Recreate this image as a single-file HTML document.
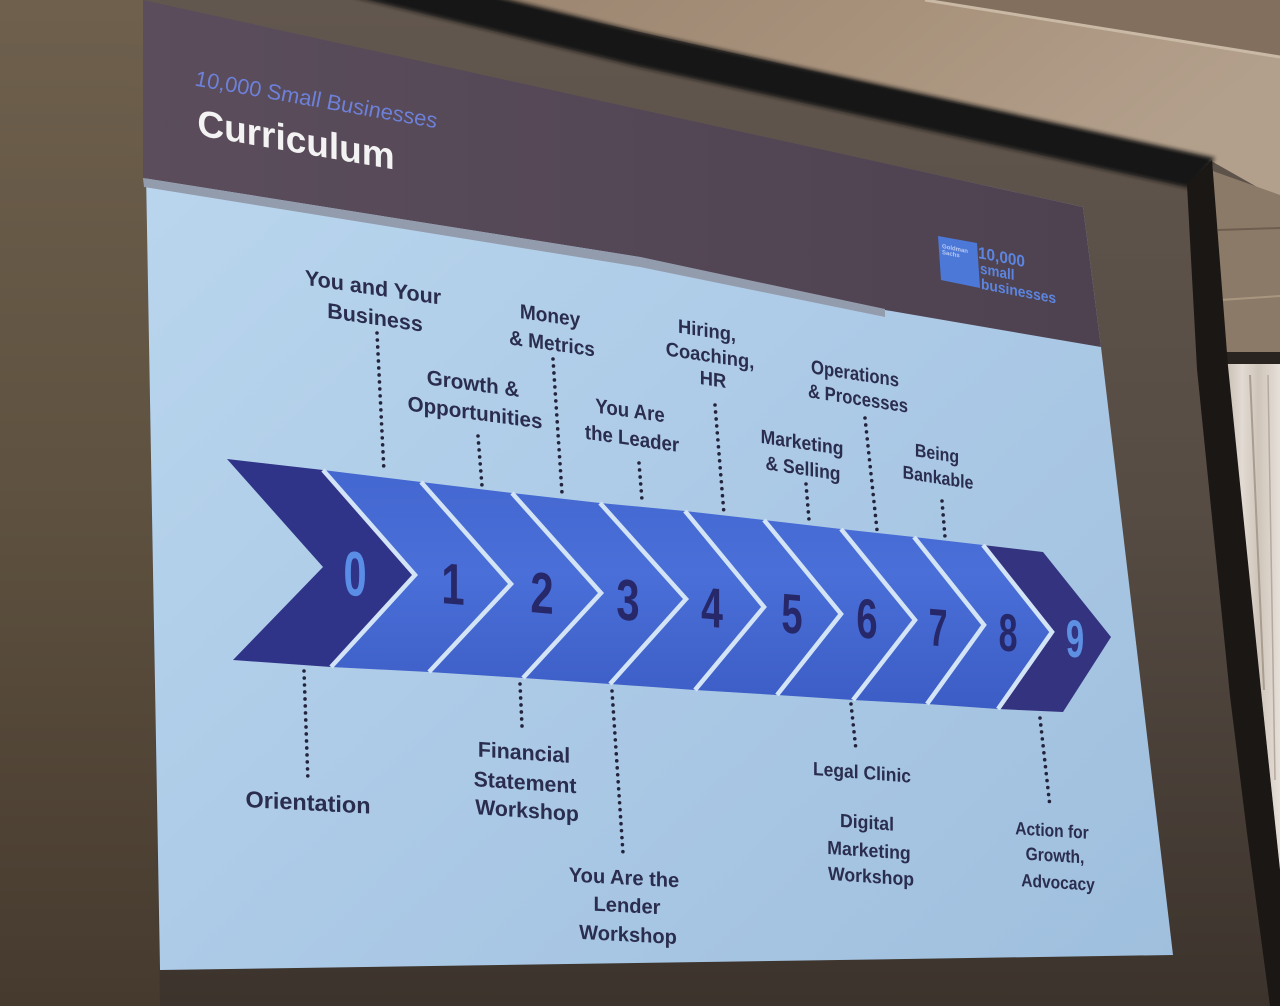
<!DOCTYPE html>
<html>
<head>
<meta charset="utf-8">
<style>
html,body{margin:0;padding:0;background:#4a4038;}
svg{display:block;}
text{font-family:"Liberation Sans",Arial,sans-serif;}
</style>
</head>
<body>
<svg width="1280" height="1006" viewBox="0 0 1280 1006" xmlns="http://www.w3.org/2000/svg">
<defs>
<linearGradient id="scr" x1="0" y1="0" x2="0" y2="1">
<stop offset="0" stop-color="#62574e"/>
<stop offset="0.5" stop-color="#564c44"/>
<stop offset="1" stop-color="#3c332c"/>
</linearGradient>
<linearGradient id="wall" x1="0" y1="0" x2="0" y2="1">
<stop offset="0" stop-color="#6e604d"/>
<stop offset="0.5" stop-color="#5e513f"/>
<stop offset="1" stop-color="#463a2f"/>
</linearGradient>
<linearGradient id="ceil" x1="0" y1="0" x2="1" y2="0.3">
<stop offset="0" stop-color="#9c8671"/>
<stop offset="0.5" stop-color="#a8927c"/>
<stop offset="1" stop-color="#b3a08c"/>
</linearGradient>
<linearGradient id="slide" x1="0" y1="0" x2="1" y2="1">
<stop offset="0" stop-color="#bcd8ef"/>
<stop offset="0.5" stop-color="#adcbe7"/>
<stop offset="1" stop-color="#9fbfde"/>
</linearGradient>
<linearGradient id="hdr" x1="0" y1="0" x2="1" y2="0">
<stop offset="0" stop-color="#5b4d5b"/>
<stop offset="1" stop-color="#4e4250"/>
</linearGradient>
<linearGradient id="chev" gradientUnits="userSpaceOnUse" x1="0" y1="460" x2="0" y2="712">
<stop offset="0" stop-color="#4366cf"/>
<stop offset="0.45" stop-color="#4a6fd8"/>
<stop offset="1" stop-color="#3b5cc4"/>
</linearGradient>
<linearGradient id="curt" x1="0" y1="0" x2="1" y2="0">
<stop offset="0" stop-color="#c9bfb4"/>
<stop offset="0.3" stop-color="#e2dbd3"/>
<stop offset="0.6" stop-color="#cfc5ba"/>
<stop offset="1" stop-color="#e6e0d9"/>
</linearGradient>
<filter id="soft" x="-5%" y="-5%" width="110%" height="110%"><feGaussianBlur stdDeviation="2"/></filter>
</defs>

<rect x="0" y="0" width="1280" height="1006" fill="url(#scr)"/>
<polygon points="0,0 143,0 160,1006 0,1006" fill="url(#wall)"/>
<polygon points="495,0 1280,0 1280,200 1213,162 640,32" fill="url(#ceil)"/>
<polygon points="925,0 1280,0 1280,57" fill="#826f5e"/>
<line x1="925" y1="0" x2="1280" y2="57" stroke="#c9b9a5" stroke-width="3"/>
<polygon points="1210,170 1280,195 1280,362 1224,362" fill="#8c7a68"/>
<line x1="1218" y1="230" x2="1280" y2="228" stroke="#6e5e50" stroke-width="2"/>
<line x1="1220" y1="300" x2="1280" y2="296" stroke="#a8967f" stroke-width="2"/>
<polygon points="1226,364 1280,364 1280,872 1262,702" fill="url(#curt)"/>
<line x1="1250" y1="375" x2="1264" y2="690" stroke="#a99d90" stroke-width="2"/>
<line x1="1268" y1="375" x2="1275" y2="780" stroke="#b5aa9e" stroke-width="1.5"/>
<rect x="1222" y="352" width="58" height="12" fill="#2a2420"/>
<g filter="url(#soft)">
<polygon points="351,-4 495,-4 640,32 1215,158 1190,188 640,67" fill="#181412"/>
</g>
<polygon points="1187,185 1212,160 1228,366 1262,700 1280,870 1280,1006 1270,1006 1247,833 1230,696 1197,369" fill="#1b1714"/>

<polygon points="143,1 1083,207 1101,347 1173,955 160,970" fill="url(#slide)"/>
<polygon points="143,0 1083,207 1101,347 885,310 640,257 143,178" fill="url(#hdr)"/>
<polygon points="143,178 640,257 885,309 885,317 640,267 144,187" fill="#939cad"/>

<text transform="translate(316 99) skewY(10) scale(0.98 1)" y="7.9" font-size="22" font-style="italic" fill="#6d81da" text-anchor="middle">10,000 Small Businesses</text>
<text transform="translate(296 139) skewY(9.9)" y="13.3" font-size="37" font-weight="bold" fill="#f3f3f3" text-anchor="middle">Curriculum</text>

<polygon points="938,236 977,243 980,288 941,280" fill="#4c78d8"/>
<text transform="translate(942 246) skewY(11)" y="2" font-size="6" font-weight="bold" fill="#b9cbf2">Goldman</text>
<text transform="translate(942 252) skewY(11)" y="2" font-size="6" font-weight="bold" fill="#b9cbf2">Sachs</text>
<text transform="translate(978 252) skewY(11) scale(0.93 1)" y="6" font-size="16.5" font-weight="bold" fill="#5b85e0">10,000</text>
<text transform="translate(980 268) skewY(11) scale(0.9 1)" y="5.4" font-size="15" font-weight="bold" fill="#5b85e0">small</text>
<text transform="translate(981 283.5) skewY(11) scale(0.92 1)" y="5.4" font-size="15" font-weight="bold" fill="#5b85e0">businesses</text>

<polygon points="227,459 323,470 415,575 331,667 233,660 323,567" fill="#2f3488"/>
<polygon points="323,470 421,482 511,584 429,672 331,667 415,575" fill="url(#chev)"/>
<polygon points="421,482 512,493 601,593 523,678 429,672 511,584" fill="url(#chev)"/>
<polygon points="512,493 600,503 686,599 610,684 523,678 601,593" fill="url(#chev)"/>
<polygon points="600,503 685,511 764,607 695,690 610,684 686,599" fill="url(#chev)"/>
<polygon points="685,511 764,520 841,614 777,695 695,690 764,607" fill="url(#chev)"/>
<polygon points="764,520 841,529 915,620 853,700 777,695 841,614" fill="url(#chev)"/>
<polygon points="841,529 914,537 984,625 927,704 853,700 915,620" fill="url(#chev)"/>
<polygon points="914,537 983,545 1052,632 998,709 927,704 984,625" fill="url(#chev)"/>
<polygon points="983,545 1043,552 1111,637 1063,712 998,709 1052,632" fill="#34337f"/>
<g fill="none" stroke="#d3e4f6" stroke-width="4.5" stroke-linejoin="miter">
<polyline points="323,470 415,575 331,667"/>
<polyline points="421,482 511,584 429,672"/>
<polyline points="512,493 601,593 523,678"/>
<polyline points="600,503 686,599 610,684"/>
<polyline points="685,511 764,607 695,690"/>
<polyline points="764,520 841,614 777,695"/>
<polyline points="841,529 915,620 853,700"/>
<polyline points="914,537 984,625 927,704"/>
<polyline points="983,545 1052,632 998,709"/>
</g>

<g font-weight="bold" text-anchor="middle">
<text transform="translate(355 573) skewY(5) scale(0.66 1)" y="22.5" font-size="63" fill="#5a8ee6">0</text>
<text transform="translate(453 583) skewY(5) scale(0.72 1)" y="21" font-size="58" fill="#27286a">1</text>
<text transform="translate(542 592) skewY(5) scale(0.72 1)" y="21" font-size="58" fill="#27286a">2</text>
<text transform="translate(628 599) skewY(5) scale(0.72 1)" y="21" font-size="58" fill="#27286a">3</text>
<text transform="translate(712 607) skewY(5) scale(0.7 1)" y="20" font-size="56" fill="#27286a">4</text>
<text transform="translate(792 613) skewY(5) scale(0.68 1)" y="20" font-size="56" fill="#27286a">5</text>
<text transform="translate(867 618) skewY(5) scale(0.68 1)" y="20" font-size="56" fill="#27286a">6</text>
<text transform="translate(938 627) skewY(5) scale(0.64 1)" y="19" font-size="53" fill="#27286a">7</text>
<text transform="translate(1008 632) skewY(5) scale(0.64 1)" y="19" font-size="53" fill="#27286a">8</text>
<text transform="translate(1075 638) skewY(5) scale(0.62 1)" y="19" font-size="53" fill="#5d8fe2">9</text>
</g>

<g stroke="#23243c" stroke-width="3.6" stroke-linecap="round" stroke-dasharray="0 7">
<line x1="377" y1="333" x2="384" y2="472"/>
<line x1="478" y1="436" x2="482" y2="486"/>
<line x1="553" y1="359" x2="562" y2="493"/>
<line x1="639" y1="463" x2="642" y2="500"/>
<line x1="715" y1="405" x2="724" y2="514"/>
<line x1="806" y1="484" x2="809" y2="520"/>
<line x1="865" y1="418" x2="877" y2="530"/>
<line x1="942" y1="501" x2="945" y2="537"/>
<line x1="304" y1="671" x2="308" y2="782"/>
<line x1="520" y1="684" x2="522" y2="726"/>
<line x1="612" y1="691" x2="623" y2="853"/>
<line x1="851" y1="704" x2="856" y2="750"/>
<line x1="1040" y1="718" x2="1050" y2="807"/>
</g>

<g font-weight="bold" fill="#2b2d4e" text-anchor="middle">
<text transform="translate(373 287) skewY(8.3)" y="7.7" font-size="21.5">You and Your</text>
<text transform="translate(375 317) skewY(8.3)" y="7.7" font-size="21.5">Business</text>

<text transform="translate(473 383) skewY(7.7) scale(0.98 1)" y="7.6" font-size="21">Growth &amp;</text>
<text transform="translate(475 412) skewY(7.7) scale(0.98 1)" y="7.6" font-size="21">Opportunities</text>

<text transform="translate(550 315) skewY(8) scale(0.93 1)" y="7.4" font-size="20.5">Money</text>
<text transform="translate(552 343) skewY(8) scale(0.93 1)" y="7.4" font-size="20.5">&amp; Metrics</text>

<text transform="translate(630 410) skewY(8) scale(0.91 1)" y="7.4" font-size="20.5">You Are</text>
<text transform="translate(632 438) skewY(8) scale(0.91 1)" y="7.4" font-size="20.5">the Leader</text>

<text transform="translate(707 330) skewY(8.5) scale(0.94 1)" y="7" font-size="19.5">Hiring,</text>
<text transform="translate(710 355) skewY(8.5) scale(0.94 1)" y="7" font-size="19.5">Coaching,</text>
<text transform="translate(713 379) skewY(8.5) scale(0.94 1)" y="7" font-size="19.5">HR</text>

<text transform="translate(802 442) skewY(8.5) scale(0.9 1)" y="7" font-size="19.5">Marketing</text>
<text transform="translate(803 468) skewY(8.5) scale(0.9 1)" y="7" font-size="19.5">&amp; Selling</text>

<text transform="translate(855 373) skewY(8.8) scale(0.855 1)" y="7" font-size="19.5">Operations</text>
<text transform="translate(858 398) skewY(8.8) scale(0.855 1)" y="7" font-size="19.5">&amp; Processes</text>

<text transform="translate(937 453) skewY(9) scale(0.86 1)" y="6.7" font-size="18.5">Being</text>
<text transform="translate(938 477) skewY(9) scale(0.86 1)" y="6.7" font-size="18.5">Bankable</text>

<text transform="translate(308 802) skewY(3) scale(1.02 1)" y="8.3" font-size="23">Orientation</text>

<text transform="translate(524 752) skewY(4) scale(0.99 1)" y="7.7" font-size="21.5">Financial</text>
<text transform="translate(525 782) skewY(4) scale(0.99 1)" y="7.7" font-size="21.5">Statement</text>
<text transform="translate(527 810) skewY(4) scale(0.99 1)" y="7.7" font-size="21.5">Workshop</text>

<text transform="translate(624 877) skewY(3) scale(0.98 1)" y="7.4" font-size="20.5">You Are the</text>
<text transform="translate(627 905) skewY(3) scale(0.98 1)" y="7.4" font-size="20.5">Lender</text>
<text transform="translate(628 934) skewY(3) scale(0.98 1)" y="7.4" font-size="20.5">Workshop</text>

<text transform="translate(862 772) skewY(4.5) scale(0.92 1)" y="6.8" font-size="19">Legal Clinic</text>

<text transform="translate(867 822) skewY(4) scale(0.93 1)" y="6.8" font-size="19">Digital</text>
<text transform="translate(869 850) skewY(4) scale(0.93 1)" y="6.8" font-size="19">Marketing</text>
<text transform="translate(871 876) skewY(4) scale(0.93 1)" y="6.8" font-size="19">Workshop</text>

<text transform="translate(1052 830) skewY(3.5) scale(0.865 1)" y="6.5" font-size="18">Action for</text>
<text transform="translate(1055 855) skewY(3.5) scale(0.865 1)" y="6.5" font-size="18">Growth,</text>
<text transform="translate(1058 882) skewY(3.5) scale(0.865 1)" y="6.5" font-size="18">Advocacy</text>
</g>
</svg>
</body>
</html>
